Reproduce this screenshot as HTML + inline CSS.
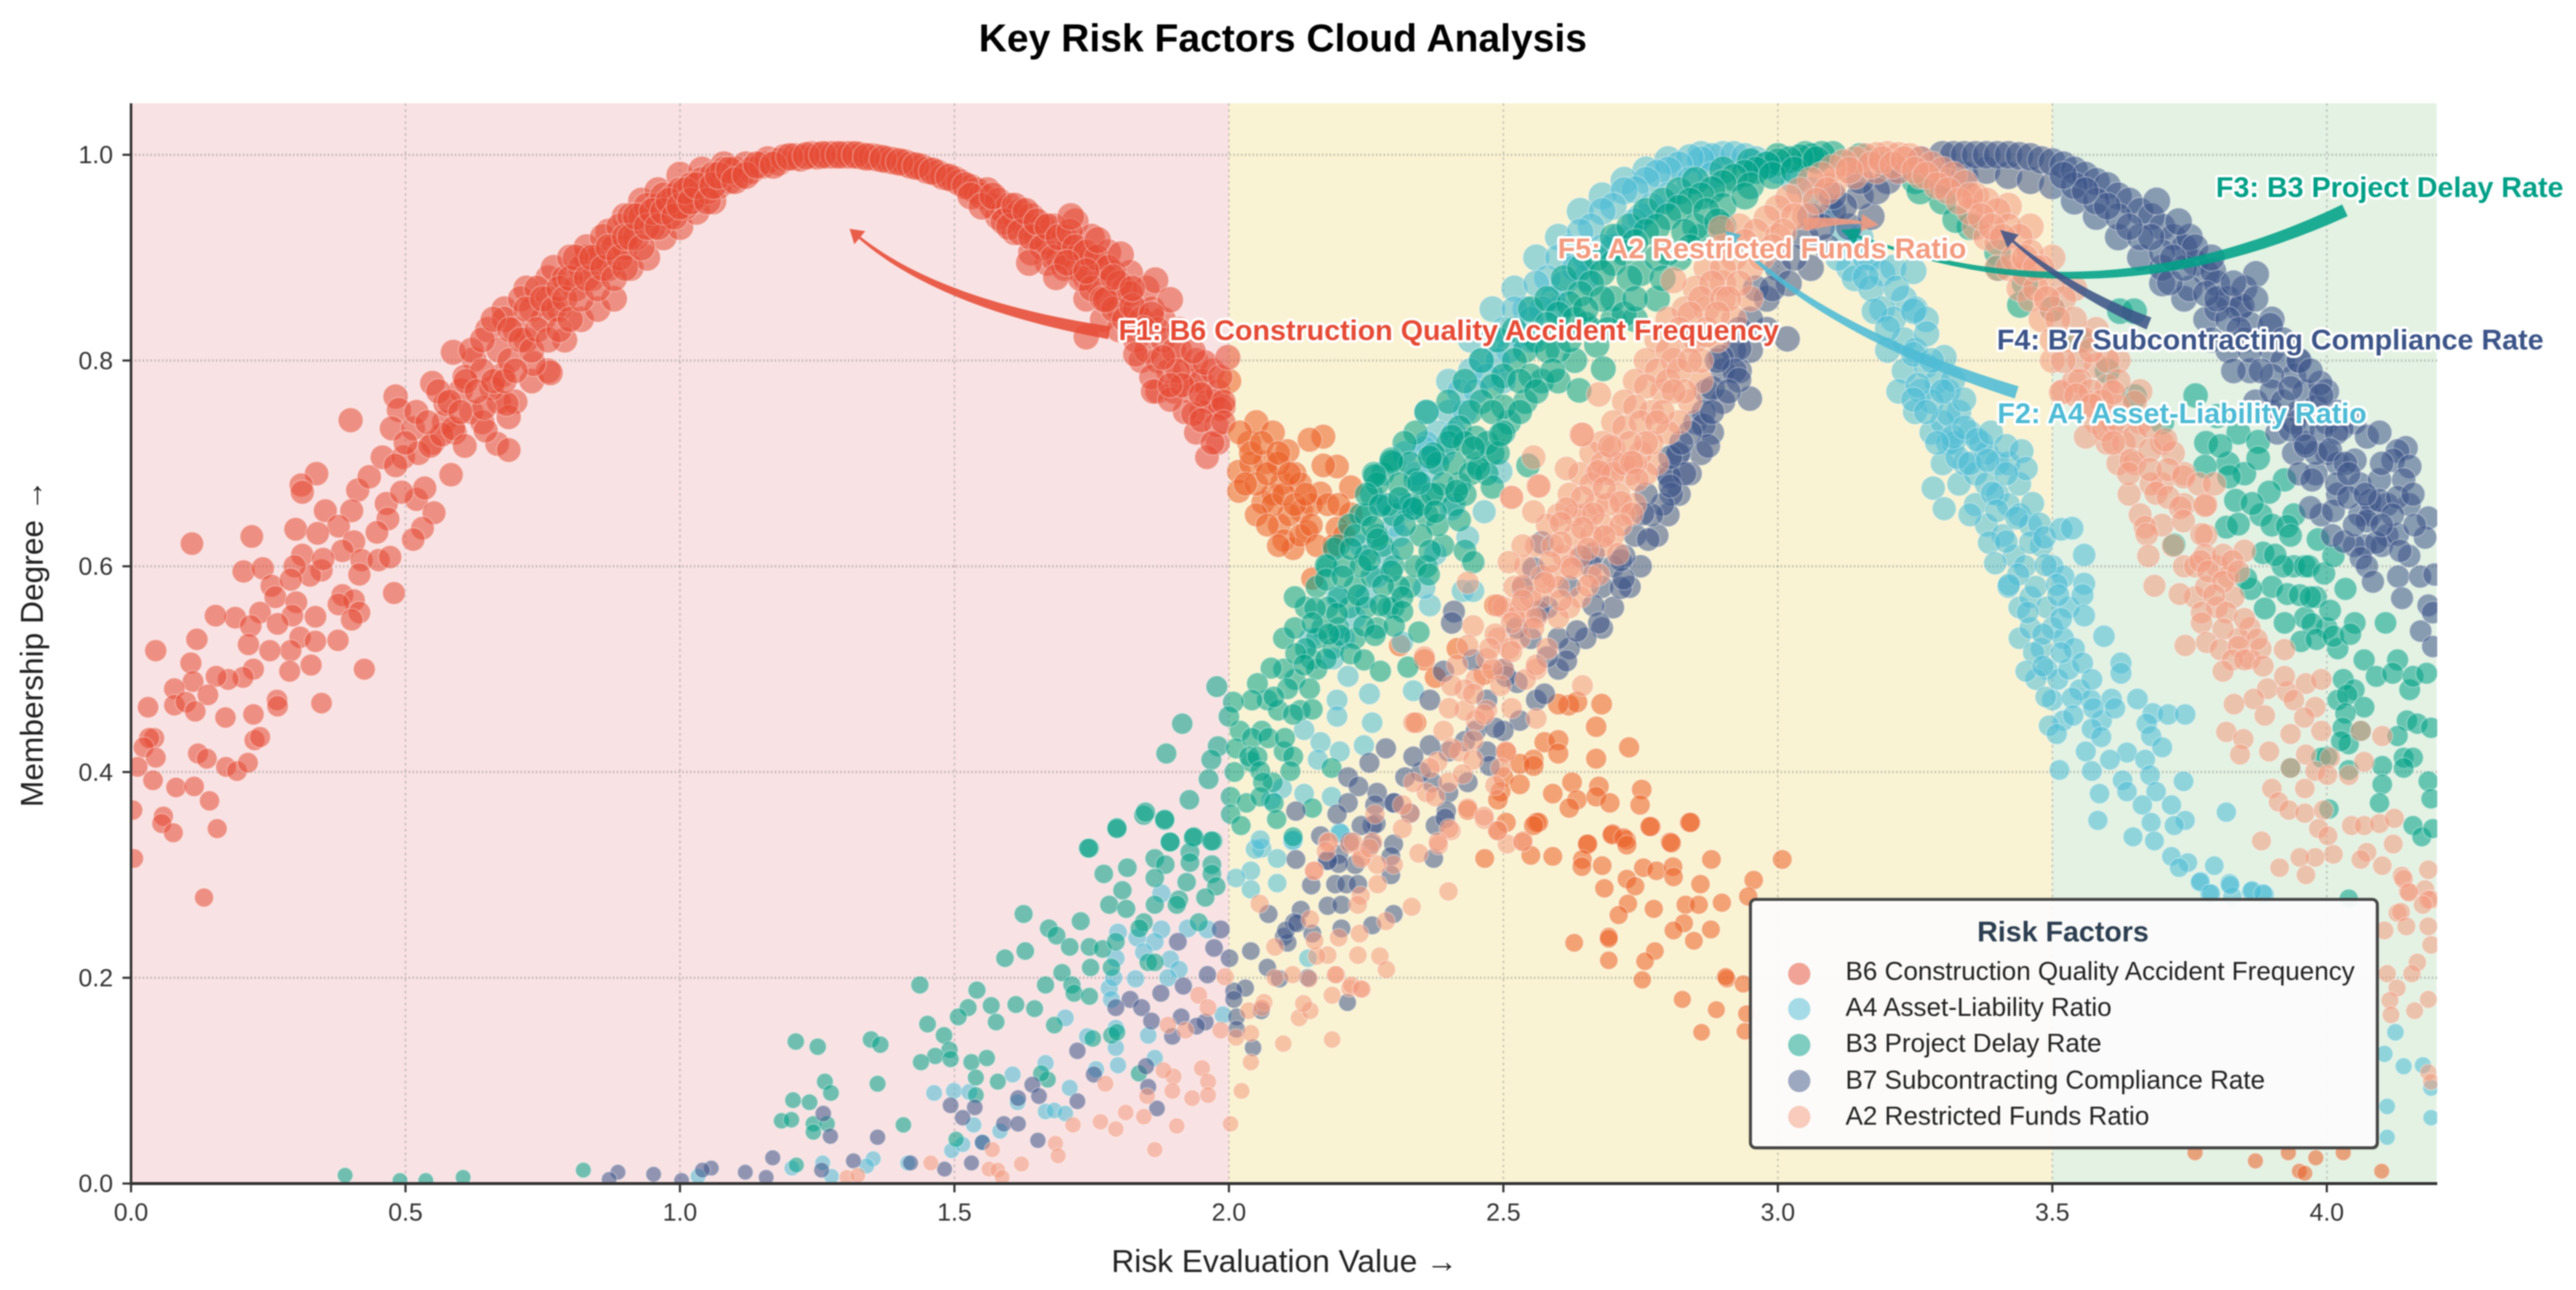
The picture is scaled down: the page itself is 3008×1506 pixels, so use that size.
<!DOCTYPE html>
<html lang="en">
<head>
<meta charset="utf-8">
<title>Key Risk Factors Cloud Analysis</title>
<style>
html,body{margin:0;padding:0;background:#fff;width:3008px;height:1506px;overflow:hidden}
svg{display:block;filter:blur(.9px)}
text{font-family:"Liberation Sans",sans-serif}
</style>
</head>
<body>
<svg id="chart" xmlns="http://www.w3.org/2000/svg" width="3008" height="1506" viewBox="0 0 3008 1506">
<defs><clipPath id="plot-clip"><rect x="153" y="120.6" width="2693" height="1261.1"/></clipPath></defs>
<text x="1498" y="60" text-anchor="middle" font-size="45.6" font-weight="bold" fill="#000">Key Risk Factors Cloud Analysis</text>
<text x="1500" y="1485" text-anchor="middle" font-size="37" fill="#222">Risk Evaluation Value →</text>
<text transform="translate(50,751) rotate(-90)" text-anchor="middle" font-size="37" fill="#222">Membership Degree →</text>
<g id="bands"></g>
<g id="grid"></g>
<g id="points" clip-path="url(#plot-clip)"></g>
<g id="axes"></g>
<g id="arrows"></g>
<g id="labels"></g>
<g>
<rect x="2046" y="1053" width="732" height="289" rx="6" fill="#000" opacity=".18"/>
<rect x="2044" y="1050" width="732" height="290" rx="6" fill="#fff" fill-opacity=".93" stroke="#444" stroke-width="3.5"/>
<text x="2409" y="1099" text-anchor="middle" font-size="33.4" font-weight="bold" fill="#2C3E50">Risk Factors</text>
<circle cx="2101" cy="1137" r="13" fill="#E64B35" fill-opacity=".5"/>
<circle cx="2101" cy="1178" r="13" fill="#4DBBD5" fill-opacity=".5"/>
<circle cx="2101" cy="1220" r="13" fill="#00A087" fill-opacity=".5"/>
<circle cx="2101" cy="1262" r="13" fill="#3C5488" fill-opacity=".5"/>
<circle cx="2101" cy="1304" r="13" fill="#F39B7F" fill-opacity=".5"/>
<g font-size="30.4" fill="#222">
<text x="2155" y="1144">B6 Construction Quality Accident Frequency</text>
<text x="2155" y="1186">A4 Asset-Liability Ratio</text>
<text x="2155" y="1228">B3 Project Delay Rate</text>
<text x="2155" y="1271">B7 Subcontracting Compliance Rate</text>
<text x="2155" y="1313">A2 Restricted Funds Ratio</text>
</g>
</g>
</svg>
<script>
const xTicks=[0,.5,1,1.5,2,2.5,3,3.5,4];
const yTicks=[0,.2,.4,.6,.8,1];
const xTickLabels=["0.0","0.5","1.0","1.5","2.0","2.5","3.0","3.5","4.0"];
const yTickLabels=["0.0","0.2","0.4","0.6","0.8","1.0"];
const bandEdges=[0,2,3.5,4.2];
const bandColors=["#F9E2E3","#FAF3D3","#E3F2E3"];
const seriesNames=["b6","a4","b3","b7","a2"];
const seriesColors=["#E64B35","#4DBBD5","#00A087","#3C5488","#F39B7F"];
const b6HighRangeColor="#EB5F26";

const b6Points=[[.55,.72],[.57,.74],[.59,.73],[.62,.75],[.64,.74],[.67,.76],[.7,.76],[.73,.78],[.76,.79],[.79,.82],[.82,.84],[.85,.85],[.88,.86],[.91,.89],[.94,.9],[.97,.92],[1,.93],[1.03,.945],[1.06,.955],[.76,.88],[.72,.87],[.68,.85],[.83,.9],[.87,.925],[.9,.94],[.93,.955],[.96,.965],[1,.98],[1.04,.985],[1.08,.99],[1.72,.935],[1.75,.92],[1.78,.905],[1.82,.885],[1.85,.87],[1.88,.84],[1.91,.81],[1.94,.78],[1.97,.76],[1.7,.905],[1.67,.895],[1.64,.905],[1.61,.925],[1.58,.94],[1.74,.86],[1.77,.84],[1.8,.83],[1.84,.8],[1.87,.77],[1.9,.77],[1.95,.75],[1.98,.72],
[.111,.622],[.22,.629],[.205,.595],[.24,.598],[.3,.636],[.338,.69],[.31,.679],[.312,.672],[.4,.742],[.482,.765],[.488,.752],[.475,.734],[.549,.778],[.413,.674],[.434,.687],[.458,.706],[.354,.654],[.402,.654],[.378,.639],[.34,.632],[.406,.624],[.385,.615],[.42,.606],[.451,.606],[.472,.609],[.416,.592],[.347,.596],[.326,.591],[.312,.611],[.298,.6],[.35,.607],[.256,.581],[.263,.57],[.291,.587],[.385,.572],[.406,.567],[.378,.563],[.416,.555],[.402,.548],[.479,.574],[.336,.551],[.301,.565],[.294,.552],[.235,.555],[.19,.55],[.154,.552],[.218,.542],[.267,.544],[.308,.531],[.336,.527],[.377,.528],[.291,.518],[.253,.518],[.214,.524],[.12,.529],[.045,.518],[.109,.506],[.328,.504],[.425,.5],[.289,.498],[.223,.5],[.204,.492],[.177,.49],[.155,.493],[.113,.488],[.079,.481],[.14,.475],[.079,.465],[.1,.468],[.117,.459],[.031,.463],[.266,.47],[.267,.464],[.347,.467],[.223,.456],[.172,.453],[.225,.431],[.235,.434],[.042,.433],[.033,.433],[.023,.424],[.045,.414],[.122,.418],[.138,.413],[.173,.405],[.193,.401],[.213,.409],[.012,.405],[.04,.392],[.082,.385],[.115,.386],[.143,.372],[.059,.357],[.056,.35],[.077,.341],[.157,.345],[.003,.363],[.005,.316],[.133,.278],
[.496,.706],[.524,.71],[.482,.698],[.545,.717],[.566,.728],[.587,.734],[.608,.717],[.583,.689],[.465,.661],[.468,.646],[.52,.665],[.535,.676],[.493,.672],[.552,.652],[.531,.637],[.514,.626],[.448,.633],[.514,.734],[.667,.719],[.688,.713],[.688,.745],[.684,.758],[.646,.732],[.573,.758],[.601,.771],[.657,.773],[.625,.801],[.608,.784],[.764,.788],[.733,.797],[.587,.808],[.677,.786],[.643,.754],
[.62,.81],[.64,.79],[.65,.83],[.67,.81],[.68,.84],[.69,.8],[.7,.83],[.71,.86],[.72,.82],[.73,.85],[.74,.87],[.75,.84],[.76,.86],[.77,.89],[.78,.85],[.79,.88],[.8,.9],[.81,.87],[.82,.89],[.83,.91],[.84,.88],[.85,.9],[.86,.92],[.87,.89],[.88,.91],[.89,.93],[.9,.91],[.91,.94],[.92,.92],[.93,.94],[.94,.95],[.95,.93],[.96,.95],[.97,.96],[.98,.94],[.99,.96],[1,.965],[1.01,.95],[1.02,.97],[1.03,.96],[1.04,.975],[1.05,.965],[1.06,.98],[1.07,.97],[1.08,.985],[1.09,.975],[1.1,.985],[1.11,.98],[1.12,.99],[1.13,.985],[1.15,.99],[1.16,.995],[1.18,.993],[1.19,.997],[1.21,.998],[1.22,.997],[1.24,1],[1.25,.999],[1.27,1],[1.28,1],[1.3,1],[1.31,1],[1.33,.999],[1.35,.998],[1.36,.997],[1.38,.995],[1.39,.994],[1.41,.992],[1.42,.99],[1.44,.988],[1.45,.985],[1.47,.982],[1.48,.979],[1.5,.976],[1.51,.973],[1.53,.968],[1.54,.965],[1.55,.96],[1.56,.965],[1.57,.95],[1.58,.955],[1.59,.945],[1.6,.95],[1.61,.94],[1.62,.945],[1.63,.93],[1.64,.94],[1.65,.92],[1.66,.93],[1.67,.915],[1.68,.93],[1.69,.9],[1.7,.92],[1.71,.91],[1.72,.89],[1.73,.905],[1.74,.88],[1.75,.9],[1.76,.875],[1.77,.89],[1.78,.86],[1.79,.885],[1.8,.85],[1.81,.87],[1.82,.83],
[.5,.72],[.52,.75],[.54,.74],[.56,.77],[.58,.76],[.6,.75],[.61,.78],[.63,.77],[.64,.82],[.66,.78],[.66,.84],[.68,.78],[.69,.83],[.7,.79],[.71,.82],[.72,.85],[.73,.81],[.74,.83],[.75,.86],[.76,.82],[.77,.85],[.78,.87],[.78,.83],[.79,.86],[.8,.84],[.8,.88],[.81,.9],[.82,.86],[.83,.88],[.84,.9],[.85,.87],[.86,.89],[.87,.91],[.88,.88],[.89,.9],[.9,.92],[.9,.89],[.91,.92],[.92,.94],[.93,.91],[.94,.93],[.95,.945],[.96,.93],[.97,.945],[.98,.955],[.99,.94],[1,.95],[1.01,.965],[1.02,.955],[1.03,.97],[1.05,.955],[1.06,.97],[1.07,.98],[1.09,.985],[1.1,.975],[1.12,.98],[1.14,.99],[1.17,.99],[1.2,.998],[1.23,.999],[1.26,1],[1.29,1],[1.32,1],[1.34,.998],[1.37,.996],[1.4,.993],[1.43,.989],[1.46,.984],[1.49,.978],[1.52,.97],[1.53,.96],[1.55,.95],[1.57,.96],[1.59,.935],[1.6,.93],[1.61,.95],[1.62,.925],[1.63,.945],[1.64,.92],[1.65,.935],[1.66,.91],[1.67,.93],[1.68,.9],[1.69,.92],[1.7,.89],[1.71,.925],[1.72,.91],[1.73,.88],[1.74,.905],[1.75,.87],[1.76,.9],[1.77,.86],[1.78,.89],[1.79,.85],[1.8,.875],[1.81,.84],[1.82,.865],[1.83,.82],[1.83,.85],[1.84,.84],[1.85,.81],[1.86,.85],[1.87,.8],[1.87,.83],[1.88,.82],[1.89,.79],[1.9,.81],[1.91,.83],[1.92,.79],[1.93,.77],[1.94,.8],[1.95,.78],[1.96,.76],[1.97,.79],[1.98,.77],[1.99,.755],[2,.78],[1.92,.75],[1.94,.73],
[1.636,.895],[1.685,.881],[1.712,.94],[1.761,.917],[1.803,.903],[1.866,.878],[1.893,.859],[1.74,.823],[1.83,.806],[1.859,.784],[1.862,.77],[1.893,.762],[1.935,.748],[1.984,.753],[1.956,.798],[1.907,.79],[1.984,.784],[1.977,.737],[1.935,.809],[1.998,.803],[1.775,.859],[1.824,.853],[1.859,.845],[1.705,.895],[1.74,.887],[1.789,.881],[1.824,.87],[1.845,.831],[1.88,.803],[1.915,.776],[1.949,.767],[1.893,.776],[1.96,.706],[1.97,.72],[1.95,.742],[1.99,.76],[1.99,.74],
[2.037,.72],[2.018,.692],[2.018,.673],[2.067,.701],[2.107,.712],[2.097,.681],[2.062,.662],[2.132,.654],[2.092,.64],[2.142,.634],[2.117,.617],[2.172,.726],[2.147,.723],[2.197,.697],[2.172,.698],[2.167,.671],[2.222,.677],[2.222,.651],[2.197,.637],[2.152,.588],[2.05,.74],[2.08,.73],[2.12,.69],[2.08,.67],[2.15,.66],[2.11,.65],[2.04,.7],[2.09,.7],[2.13,.68],[2.1,.625],[2.02,.73],[2.04,.71],[2.05,.68],[2.06,.72],[2.07,.69],[2.08,.66],[2.09,.71],[2.1,.67],[2.11,.69],[2.12,.66],[2.13,.63],[2.14,.67],[2.15,.64],[2.16,.62],[2.18,.66],[2.19,.62],[2.2,.66],[2.21,.63],[2.03,.68],[2.05,.65],[2.07,.64],[2.09,.62],[2.311,.523],[2.416,.52],[2.356,.509],[2.376,.492],[2.465,.495],[2.485,.562],[2.341,.448],[2.679,.466],[2.619,.465],[2.634,.468],[2.6,.466],[2.669,.444],[2.729,.424],[2.669,.413],[2.575,.429],[2.6,.431],[2.6,.418],[2.555,.412],[2.505,.419],[2.53,.408],[2.555,.406],[2.5,.395],[2.53,.388],[2.495,.381],[2.59,.379],[2.625,.39],[2.634,.373],[2.674,.386],[2.669,.376],[2.694,.37],[2.752,.383],[2.749,.368],[2.62,.365],[2.56,.351],[2.839,.351],[2.769,.347],[2.699,.34],[2.724,.334],[2.804,.332],[2.654,.33],[2.435,.363],[2.49,.373],[2.505,.351],
[2.466,.316],[2.489,.343],[2.536,.333],[2.55,.319],[2.59,.318],[2.564,.351],[2.555,.348],[2.653,.33],[2.644,.315],[2.643,.308],[2.68,.309],[2.684,.287],[2.698,.339],[2.719,.336],[2.725,.329],[2.767,.347],[2.806,.331],[2.841,.351],[2.879,.315],[2.755,.307],[2.725,.296],[2.74,.289],[2.779,.304],[2.809,.308],[2.81,.298],[2.859,.291],[2.956,.295],[2.946,.279],[3.008,.315],[2.727,.272],[2.71,.261],[2.774,.267],[2.832,.271],[2.856,.271],[2.898,.273],[2.829,.253],[2.81,.246],[2.878,.247],[2.847,.236],[2.629,.234],[2.692,.24],[2.692,.238],[2.692,.217],[2.776,.226],[2.758,.216],[2.753,.198],[2.907,.199],[2.905,.201],[2.937,.194],[2.826,.179],[2.888,.169],[2.861,.147],[2.943,.165],[2.94,.148],[3.76,.03],[3.87,.022],[3.93,.03],[3.95,.012],[3.96,.01],[3.98,.025],[4.03,.03],[4.1,.012]];

const a4Points=[[2.86,1],[2.8,.995],[2.76,.985],[2.72,.975],[2.68,.96],[2.64,.945],[2.6,.92],[2.56,.9],[2.52,.87],[2.48,.85],[2.44,.82],[2.4,.78],[2.36,.75],[2.32,.71],[2.28,.66],[2.24,.62],[3.13,.89],[3.11,.9],[3.14,.88],[3.2,.81],[3.23,.79],[3.22,.77],[3.25,.75],[3.28,.73],[3.31,.72],[3.3,.7],[3.33,.68],[3.36,.66],[3.38,.64],[3.35,.65],[3.42,.58],[3.44,.56],[3.46,.57],[3.49,.5],[3.51,.49],[3.44,.53],[3.47,.49],[3.5,.47],[3.52,.45],
[2.9,1],[2.88,.998],[2.86,.995],[2.84,.997],[2.82,.99],[2.8,.985],[2.78,.982],[2.76,.975],[2.74,.966],[2.72,.965],[2.7,.95],[2.68,.945],[2.66,.93],[2.64,.925],[2.62,.91],[2.6,.9],[2.58,.88],[2.56,.875],[2.54,.85],[2.52,.85],[2.5,.83],[2.48,.82],[2.46,.8],[2.44,.79],[2.42,.77],[2.4,.75],[2.38,.73],[2.36,.72],[2.34,.69],[2.32,.66],[2.3,.64],[2.75,.94],[2.7,.91],[2.65,.88],[2.6,.85],[2.55,.82],[2.5,.78],[2.92,1],[2.94,.998],[2.96,.995],[2.98,.99],[3,.985],[3.03,.975],[3.06,.965],[3.09,.95],[3.12,.925],[3.14,.91],[3.16,.9],
[2.88,.98],[2.84,.975],[2.8,.96],[2.77,.95],[2.74,.935],[2.71,.92],[2.68,.91],[2.65,.9],[2.63,.89],[2.61,.875],[2.59,.86],[2.57,.85],[2.55,.84],[2.53,.825],[2.51,.81],[2.49,.8],[2.47,.785],[2.45,.77],[2.43,.75],[2.41,.73],[2.39,.71],[2.37,.695],[2.35,.68],[2.33,.655],[2.31,.63],[2.29,.61],[2.27,.59],[2.25,.57],[2.23,.55],[2.21,.53],[2.19,.51],
[3.15,.92],[3.17,.9],[3.19,.885],[3.21,.89],[3.23,.86],[3.25,.85],[3.27,.84],[3.17,.87],[3.19,.85],[3.21,.84],[3.23,.82],[3.25,.81],[3.27,.795],[3.29,.78],[3.31,.77],[3.33,.75],[3.35,.73],[3.37,.72],[3.26,.77],[3.28,.76],[3.3,.74],[3.32,.72],[3.34,.7],[3.36,.69],[3.38,.68],[3.4,.67],[3.42,.66],[3.44,.65],[3.4,.7],[3.42,.7],[3.38,.71],[3.44,.68],[3.46,.64],[3.48,.62],[3.5,.6],[3.52,.59],[3.41,.63],[3.43,.61],[3.45,.6],[3.47,.58],[3.49,.56],[3.5,.54],[3.52,.53],[3.53,.56],[3.54,.52],[3.46,.54],[3.48,.52],[3.53,.5],[3.55,.48],[3.57,.47],[3.59,.45],
[3.16,.881],[3.216,.87],[3.247,.887],[3.176,.848],[3.247,.848],[3.2,.831],[3.271,.826],[3.247,.806],[3.303,.803],[3.255,.776],[3.319,.781],[3.247,.762],[3.311,.748],[3.339,.762],[3.283,.676],[3.303,.656],[3.327,.706],[3.319,.726],[3.28,.8],[3.3,.77],[3.27,.75],[3.34,.735],[3.29,.72],[3.35,.7],
[3.363,.723],[3.388,.73],[3.416,.717],[3.382,.703],[3.444,.712],[3.452,.695],[3.416,.69],[3.391,.671],[3.464,.661],[3.399,.654],[3.435,.647],[3.477,.641],[3.385,.623],[3.416,.624],[3.46,.623],[3.486,.628],[3.516,.636],[3.536,.637],[3.396,.603],[3.558,.611],[3.488,.601],[3.438,.592],[3.421,.582],[3.508,.582],[3.558,.583],[3.555,.572],[3.511,.572],[3.455,.555],[3.516,.549],[3.558,.552],[3.483,.534],[3.594,.532],[3.466,.516],[3.516,.516],[3.625,.506],[3.625,.496],[3.452,.498],[3.483,.503],[3.555,.506],[3.572,.49],[3.488,.473],[3.536,.472],[3.608,.471],[3.614,.462],[3.655,.471],[3.575,.462],[3.538,.455],[3.494,.445],[3.508,.437],[3.683,.457],[3.711,.456],[3.742,.456],[3.672,.447],[3.68,.435],[3.572,.442],[3.589,.434],[3.561,.42],[3.7,.424],[3.636,.419],[3.605,.412],[3.669,.412],[3.572,.401],[3.678,.397],[3.513,.402],[3.628,.392],[3.739,.391],[3.586,.379],[3.636,.381],[3.689,.381],[3.664,.368],[3.717,.368],[3.583,.353],[3.817,.361],[3.68,.351],[3.742,.353],[3.722,.348],[3.647,.337],[3.686,.333],[3.717,.318],[3.747,.312],[3.731,.307],[3.795,.309],[3.77,.294],[3.823,.292],[3.786,.282],[3.828,.279],[3.862,.284],[3.887,.281],[3.769,.293],[3.824,.29],[3.789,.282],[3.864,.285],[3.884,.282],[4.125,.147],[4.105,.126],[4.14,.114],[4.175,.115],[4.19,.093],[4.11,.075],[4.19,.064],[4.11,.045],
[1.463,.088],[1.499,.09],[1.527,.089],[1.606,.106],[1.666,.117],[1.71,.093],[1.615,.079],[1.666,.07],[1.682,.071],[1.702,.068],[1.535,.057],[1.583,.051],[1.551,.04],[1.495,.032],[1.515,.038],[1.415,.02],[1.352,.024],[1.34,.017],[1.26,.02],[1.204,.015],[1.276,.007],[1.033,.007],[1.758,.111],[1.798,.115],[1.865,.122],[1.794,.132],[1.742,.143],[1.702,.161],[1.794,.151],[1.853,.144],[1.782,.19],[1.786,.179],[1.79,.2],[1.83,.199],[1.794,.219],[1.798,.244],[1.833,.239],[1.877,.247],[1.865,.235],[1.845,.225],[1.877,.282],[1.893,.218],[1.909,.208],[1.889,.2],[1.925,.248],[1.961,.247],[2.04,.304],[2.013,.297],[2.04,.286],[2.088,.292],[1.989,.164],[2.144,.219],[2.204,.34],[2.06,.326],[2.088,.316],[2.116,.333],[2.048,.325],
[2.217,.493],[2.197,.47],[2.256,.476],[2.197,.454],[2.261,.448],[2.137,.441],[2.167,.429],[2.246,.426],[2.162,.412],[2.202,.42],[2.097,.384],[2.137,.379],[2.077,.373],[2.057,.334],[2.187,.376],[2.202,.341],[2.117,.334],[2.336,.479],[2.426,.576],[2.445,.576],[2.366,.562],[2.197,.57],[2.147,.529],[2.316,.526],[2.356,.579],[2.435,.628],[2.406,.656],[2.495,.692],[2.356,.715],[2.465,.653],[2.376,.612]];

const b3Points=[[2.4,.76],[2.43,.78],[2.46,.8],[2.49,.82],[2.52,.83],[2.55,.85],[2.58,.86],[2.61,.88],[2.64,.89],[2.67,.9],[2.7,.92],[2.73,.93],[2.76,.945],[2.79,.955],[2.82,.965],[2.85,.975],[2.9,.985],[2.95,.993],[3,.998],[3.05,1],[2.42,.68],[2.45,.7],[2.48,.71],[2.51,.74],[2.54,.76],[2.57,.78],[2.6,.78],[2.63,.8],[2.66,.83],[2.7,.84],[2.74,.84],[2.78,.86],[2.82,.9],[2.86,.92],[2.9,.93],[2.36,.75],[2.34,.73],[2.32,.72],[2.3,.7],[2.28,.69],[2.26,.67],[2.24,.65],[2.22,.64],[2.2,.62],[2.18,.6],[2.16,.58],[2.14,.56],[2.12,.57],[2.1,.53],[2.38,.67],[2.36,.65],[2.33,.66],[2.3,.65],[2.27,.63],[2.25,.61],[2.23,.58],[2.2,.54],[2.17,.54],[2.15,.51],[2.12,.49],[2.07,.47],[2.3,.56],[2.33,.58],[2.36,.6],[2.39,.62],
[3.1,1],[3.08,1],[3.06,.998],[3.04,.997],[3.02,.995],[3,.993],[2.98,.99],[2.96,.985],[2.94,.982],[2.92,.978],[2.9,.972],[2.88,.966],[2.86,.96],[2.84,.955],[2.82,.948],[2.8,.94],[2.78,.93],[2.76,.925],[2.74,.915],[2.72,.905],[2.7,.895],[2.68,.885],[2.66,.875],[2.64,.865],[2.62,.855],[2.6,.845],[2.58,.835],[2.56,.82],[2.54,.81],[2.52,.8],[2.5,.785],[2.48,.775],[2.46,.76],[2.44,.75],[2.42,.735],[2.4,.72],[2.85,.93],[2.8,.905],[2.75,.885],[2.7,.86],[2.65,.835],[2.6,.81],[2.55,.785],[2.5,.755],[2.45,.725],[2.72,.845],[2.67,.815],[2.372,.709],[2.34,.684],[2.682,.792],[2.638,.771],[2.296,.704],[2.264,.69],
[2.95,.97],[2.9,.95],[2.87,.945],[2.83,.925],[2.78,.9],[2.73,.88],[2.68,.86],[2.63,.84],[2.58,.81],[2.53,.78],[2.48,.75],[2.43,.72],[2.38,.7],[2.35,.66],[2.33,.7],[2.31,.68],[2.29,.66],[2.27,.68],[2.25,.65],[2.23,.63],[2.21,.6],[2.41,.7],[2.39,.68],[2.37,.67],[2.44,.69],[2.47,.72],[2.5,.73],[2.53,.75],[2.56,.77],[2.59,.79],[2.62,.82],[2.65,.85],[2.69,.83],[2.74,.86],[2.79,.88],[2.84,.91],[2.89,.935],[2.94,.96],[2.99,.98],[3.03,.985],[3.07,.995],[2.41,.66],[2.38,.64],[2.35,.63],[2.32,.64],[2.3,.6],[2.28,.62],[2.26,.59],[2.24,.6],[2.22,.56],[2.2,.57],[2.18,.56],[2.16,.53],[2.14,.52],[2.12,.54],[2.1,.5],[2.34,.6],[2.31,.58],[2.29,.56],[2.27,.54],[2.25,.56],[2.23,.53],[2.19,.52],[2.16,.5],[2.13,.46],[2.09,.46],[2.06,.44],[2.04,.41],[2.01,.4],[2.02,.44],[2.08,.39],[2.1,.42],[2.47,.69],[2.49,.71],[2.43,.67],
[3.15,.998],[3.2,.99],[3.25,.975],[3.3,.955],[3.35,.93],[3.4,.905],[3.45,.875],[3.5,.85],[3.55,.82],[3.6,.79],[3.65,.765],[3.7,.74],[3.259,.965],[3.324,.937],[3.402,.89],[3.441,.854],[3.623,.848],[3.649,.848],[3.78,.72],[3.82,.7],[3.85,.69],[3.88,.65],[3.9,.64],[3.94,.6],[3.96,.6],[3.92,.6],[3.98,.57],[3.96,.55],[4,.54],[4.02,.52],[4.03,.49],[4.05,.48],[4.02,.47],[3.94,.65],[3.9,.58],
[3.761,.766],[3.839,.73],[3.875,.721],[3.875,.705],[3.923,.684],[3.895,.672],[3.834,.664],[3.864,.661],[3.817,.638],[3.839,.641],[3.928,.639],[3.934,.63],[3.984,.626],[3.884,.613],[3.906,.611],[3.967,.6],[3.995,.593],[4.012,.61],[4.034,.578],[3.928,.573],[3.951,.572],[3.97,.57],[3.862,.578],[4.006,.557],[3.887,.559],[3.973,.544],[4.051,.545],[4.107,.545],[3.953,.527],[3.981,.529],[4.012,.532],[4.043,.534],[3.923,.545],[4.068,.509],[4.129,.509],[4.09,.493],[4.12,.496],[4.151,.48],[4.157,.493],[4.182,.496],[4.037,.475],[4.068,.463],[4.034,.457],[4.146,.45],[4.165,.447],[4.19,.443],[4.129,.435],[4.14,.414],[4.157,.414],[4.101,.406],[4.14,.404],[4.185,.391],[4.19,.374],[4.101,.388],[4.096,.37],[4.157,.348],[4.173,.337],[4.193,.345],[3.934,.404],[4.04,.402],[4.029,.443],[4.062,.44],[4.04,.427],[4.001,.415],[4.004,.364],[3.99,.414],[4.026,.43],[3.8,.746],[3.806,.717],[3.778,.697],[3.822,.687],[3.722,.621],[3.853,.588],[4.04,.277],
[1.796,.346],[1.746,.326],[1.845,.358],[1.883,.353],[1.772,.301],[1.815,.307],[1.806,.285],[1.782,.271],[1.813,.267],[1.893,.332],[1.935,.336],[1.971,.333],[1.929,.322],[1.929,.312],[1.865,.316],[1.884,.31],[1.865,.297],[1.969,.31],[1.969,.301],[1.977,.289],[1.923,.293],[1.909,.276],[1.905,.271],[1.865,.271],[1.957,.278],[1.945,.254],[1.845,.254],[1.837,.248],[1.73,.255],[1.626,.262],[1.672,.248],[1.686,.241],[1.71,.23],[1.746,.23],[1.77,.228],[1.794,.235],[1.629,.226],[1.592,.219],[1.696,.205],[1.748,.21],[1.786,.21],[1.853,.215],[1.865,.215],[1.666,.193],[1.714,.193],[1.718,.185],[1.746,.182],[1.437,.193],[1.541,.188],[1.525,.171],[1.507,.162],[1.567,.173],[1.576,.157],[1.612,.174],[1.646,.17],[1.451,.155],[1.682,.154],[1.481,.144],[1.491,.13],[1.465,.124],[1.439,.118],[1.493,.121],[1.531,.118],[1.559,.122],[1.539,.103],[1.539,.086],[1.579,.099],[1.67,.101],[1.658,.107],[1.752,.141],[1.786,.144],[1.796,.147],[1.36,.097],[1.264,.099],[1.275,.088],[1.206,.081],[1.236,.079],[1.185,.061],[1.203,.062],[1.243,.058],[1.268,.058],[1.243,.05],[1.211,.138],[1.251,.133],[1.348,.14],[1.365,.135],[1.407,.057],[1.503,.043],[1.212,.018],[1.836,.107],[.39,.008],[.49,.003],[.537,.003],[.605,.006],[.824,.013],
[2.296,.702],[2.266,.688],[2.366,.706],[2.346,.681],[2.48,.677],[2.415,.673],[2.455,.695],[2.445,.715],[2.406,.726],[2.495,.728],[2.545,.698],[2.251,.67],[2.276,.659],[2.311,.666],[2.336,.656],[2.376,.653],[2.42,.645],[2.262,.638],[2.271,.626],[2.192,.617],[2.222,.617],[2.256,.606],[2.316,.617],[2.366,.615],[2.43,.615],[2.445,.604],[2.364,.592],[2.177,.601],[2.177,.587],[2.207,.59],[2.296,.595],[2.236,.572],[2.281,.581],[2.316,.57],[2.276,.562],[2.316,.556],[2.157,.559],[2.197,.554],[2.152,.545],[2.246,.542],[2.301,.542],[2.346,.536],[2.202,.533],[2.266,.533],[2.182,.534],[2.122,.515],[2.137,.504],[2.177,.51],[2.222,.515],[2.246,.509],[2.276,.498],[2.077,.501],[2.326,.502],[2.052,.486],[2.042,.47],[2.107,.481],[2.147,.481],[2.082,.473],[2.008,.468],[2.152,.461],[2,.454],[2.117,.456],[1.978,.483],[1.915,.447],[1.886,.418],[1.98,.425],[2.013,.423],[2.042,.433],[2.072,.433],[2.102,.433],[1.968,.412],[2.037,.415],[2.117,.415],[2.052,.415],[1.963,.393],[2.057,.401],[2.112,.401],[2.187,.404],[1.928,.373],[2.062,.39],[2.003,.376],[2.032,.37],[2.057,.376],[2.082,.37],[1.848,.361],[1.883,.354],[1.796,.345],[1.893,.332],[1.936,.337],[1.968,.333],[2.003,.359],[2.087,.354],[2.152,.365],[2.022,.348],[2.117,.337],[1.744,.326]];

const b7Points=[[3.3,.975],[3.34,.98],[3.38,.985],[3.42,.98],[3.46,.975],[3.5,.97],[3.54,.955],[3.58,.94],[3.62,.92],[3.66,.9],[3.7,.875],[3.74,.86],[3.78,.84],[3.82,.81],[3.86,.79],[3.9,.75],[3.94,.71],[3.98,.69],[4.02,.67],[4.06,.65],[4.01,.63],[3.99,.65],[3.95,.69],[3.91,.73],[3.87,.76],[3.83,.79],[3.79,.82],[4.07,.62],[4.11,.63],[4.15,.61],[4.13,.59],[4.17,.59],[4.15,.66],[4.1,.62],[4.05,.62],[2.98,.83],[2.95,.81],[2.93,.79],[2.9,.76],[2.88,.73],[2.86,.71],[2.84,.69],[2.82,.67],[2.8,.65],[2.78,.63],[2.75,.6],[2.73,.58],[2.7,.56],[2.68,.54],[2.65,.53],[2.62,.52],[2.6,.5],[2.56,.47],[2.53,.45],[2.5,.44],[2.47,.42],[2.43,.43],[2.4,.38],[2.37,.39],[2.33,.36],[2.3,.33],[2.26,.33],[2.23,.31],[2.18,.27],[3.09,.91],[3.13,.93],[3.17,.94],[3.06,.89],
[3.22,.985],[3.26,.995],[3.3,1],[3.32,1],[3.34,1],[3.36,1],[3.38,1],[3.4,1],[3.42,1],[3.44,.999],[3.46,.998],[3.48,.995],[3.5,.993],[3.52,.99],[3.54,.985],[3.56,.98],[3.58,.974],[3.6,.97],[3.62,.96],[3.64,.955],[3.66,.945],[3.68,.94],[3.7,.93],[3.72,.92],[3.74,.91],[3.76,.895],[3.78,.885],[3.8,.875],[3.82,.86],[3.84,.85],[3.86,.835],[3.88,.82],[3.9,.81],[3.92,.8],[3.94,.785],[3.96,.77],[3.98,.755],[4,.74],[3.7,.89],[3.75,.87],[3.8,.85],[3.85,.82],[3.9,.785],[3.95,.75],[3.75,.92],[3.85,.87],[3.9,.84],[3.95,.8],[4,.77],[4.05,.74],[4,.71],[3.793,.887],[3.845,.853],[3.714,.876],[3.871,.884],[3.897,.834],[3.949,.8],[3.988,.778],[4.027,.734],[4.144,.715],
[3.54,.97],[3.58,.955],[3.62,.94],[3.66,.92],[3.7,.905],[3.74,.89],[3.78,.865],[3.82,.84],[3.86,.81],[3.9,.77],[3.94,.74],[3.98,.71],[4.02,.7],[4.06,.68],[3.96,.72],[3.92,.76],[3.88,.79],[3.84,.83],[3.8,.86],[3.76,.91],[3.72,.9],[3.68,.92],[3.64,.93],[3.6,.95],[3.56,.965],[3.52,.98],[4.08,.65],[4.11,.66],[4.02,.75],[3.97,.79],[3.92,.82],[3.87,.86],[3.83,.875],[3.79,.9],[3.73,.935],[3.69,.955],
[3.2,.975],[3.15,.96],[3.1,.945],[3.05,.92],[3,.89],[2.98,.86],[2.95,.84],[2.92,.81],[2.9,.79],[2.87,.77],[2.85,.74],[2.82,.71],[2.8,.69],[3.18,.965],[3.12,.95],[3.08,.93],[3.03,.9],[2.929,.812],[2.897,.803],[2.921,.79],[2.949,.763],[2.929,.781],[2.881,.773],[2.865,.75],[2.865,.737],[2.873,.717],[2.818,.709],[2.802,.687],[2.806,.67],[3.017,.821],
[2.96,.87],[2.93,.83],[2.89,.8],[2.91,.77],[2.88,.75],[2.84,.73],[2.83,.69],[2.79,.66],[2.77,.65],[2.76,.67],[2.74,.63],[2.72,.61],[2.7,.6],[2.68,.58],[2.66,.6],[2.62,.58],[2.6,.53],[2.58,.56],[2.55,.53],[2.5,.5],[2.47,.47],[2.45,.44],[2.4,.42],[2.35,.4],[2.3,.37],[2.27,.38],[2.2,.32],[2.15,.29],[2.1,.24],[2.07,.21],[2.03,.19],[3.1,.96],[3.06,.94],[3.15,.975],[3.02,.875],[2.99,.87],
[3.934,.773],[3.99,.766],[3.956,.733],[3.934,.733],[3.99,.733],[4.018,.73],[3.962,.717],[4.006,.713],[4.051,.703],[4.034,.7],[4.073,.726],[4.096,.73],[4.129,.712],[4.121,.703],[4.151,.697],[3.973,.684],[4.018,.68],[4.096,.684],[4.14,.684],[3.97,.657],[4.012,.654],[4.04,.667],[4.079,.664],[4.096,.664],[4.129,.667],[4.157,.67],[4.185,.647],[4.031,.624],[4.073,.644],[4.129,.631],[4.179,.628],[4.09,.623],[4.134,.615],[4.062,.608],[4.073,.6],[4.084,.585],[4.137,.569],[4.185,.562],[4.171,.537],[4.193,.522],[4.193,.555],[4.196,.592],[4.04,.69],[4.1,.7],[4.07,.67],[4.12,.65],[4.16,.64],[4.05,.64],[4.1,.64],
[2.804,.706],[2.804,.678],[2.824,.72],[2.754,.651],[2.764,.626],[2.714,.579],[2.719,.588],[2.664,.562],[2.674,.545],[2.634,.537],[2.615,.508],[2.58,.512],[2.57,.623],[2.565,.556],[2.525,.54],[2.575,.476],[2.525,.487],[2.391,.498],[2.366,.47],[2.41,.556],[2.406,.545],[2.445,.509],[2.505,.493],[2.485,.443],[2.366,.426],[2.286,.423],[2.256,.409],[2.336,.415],[2.475,.406],[2.435,.39],[2.217,.395],[2.236,.386],[2.217,.37],[2.197,.359],[2.122,.362],[2.321,.395],[2.266,.368],[2.301,.37],[2.396,.362],[2.376,.348],[2.261,.348],[2.167,.338],[2.555,.598],[2.535,.579],[2.664,.612],[2.714,.606],[2.644,.609],
[2.394,.355],[2.268,.35],[2.241,.348],[2.22,.332],[2.122,.315],[2.179,.314],[2.2,.311],[2.295,.318],[2.373,.316],[2.194,.291],[2.214,.291],[2.235,.291],[2.295,.3],[2.205,.271],[2.131,.266],[2.119,.254],[2.3,.262],[2.261,.251],[2.205,.248],[2.152,.243],[2.107,.234],[2.144,.2],[2.216,.176],
[2.18,.314],[2.072,.262],[2.104,.246],[2.124,.253],[1.985,.247],[1.907,.235],[1.973,.229],[2.001,.219],[2.04,.226],[1.961,.203],[1.917,.192],[1.876,.185],[1.82,.179],[1.794,.171],[1.841,.171],[1.859,.158],[1.913,.162],[1.957,.157],[1.941,.153],[2.009,.187],[2.009,.179],[2.014,.162],[2.014,.15],[2.044,.132],[2.092,.199],[2.059,.168],[1.897,.143],[1.724,.129],[1.849,.114],[1.754,.106],[1.853,.094],[1.869,.073],[1.642,.096],[1.654,.085],[1.616,.083],[1.724,.08],[1.537,.074],[1.493,.076],[1.515,.064],[1.59,.058],[1.616,.058],[1.652,.042],[1.551,.04],[1.36,.045],[1.169,.025],[1.42,.02],[1.316,.022],[1.258,.013],[1.482,.014],[1.531,.02],[1.057,.015],[1.041,.013],[1.119,.011],[1.157,.006],[1.261,.068],[1.274,.046],[.887,.011],[.871,.004],[.952,.009],[1.003,.003]];

const a2Points=[[2.93,.93],[2.9,.91],[2.87,.89],[2.85,.87],[2.83,.85],[2.8,.84],[2.78,.82],[2.76,.8],[2.74,.78],[2.72,.76],[2.7,.74],[2.68,.72],[2.66,.71],[2.64,.69],[2.62,.67],[2.6,.65],[2.58,.64],[2.56,.62],[2.54,.6],[2.52,.58],[2.5,.56],[2.49,.53],[2.47,.51],[2.45,.49],[2.43,.48],[2.95,.86],[2.92,.84],[2.89,.82],[2.86,.78],[2.84,.76],[2.82,.74],[2.8,.73],[2.78,.7],[2.76,.69],[2.74,.66],[2.72,.65],[2.7,.63],[2.68,.62],[2.66,.59],[2.64,.57],[2.62,.56],[2.6,.55],[2.58,.52],[2.56,.5],[2.54,.49],[2.9,.875],[2.87,.85],[2.84,.82],[2.81,.8],[2.79,.77],[2.77,.75],[2.75,.71],[2.73,.69],[2.71,.7],[2.69,.69],[2.67,.69],[2.65,.65],[2.63,.63],[2.61,.61],[2.59,.59],[2.57,.57],[2.55,.55],[2.53,.56],[2.51,.52],[3.36,.93],[3.38,.92],[3.4,.89],[3.42,.89],[3.44,.87],[3.46,.86],[3.48,.84],[3.5,.8],[3.52,.77],[3.54,.78],[3.56,.76],[3.58,.74],[3.6,.72],[3.62,.7],[3.64,.67],[3.66,.65],[3.7,.64],[3.72,.62],[3.74,.6],[3.76,.57],[3.78,.58],[3.8,.6],[3.83,.57],[3.86,.51],[3.42,.95],[3.46,.93],[3.5,.9],[3.54,.87],[3.58,.83],[3.62,.8],[3.66,.77],[3.7,.72],[3.74,.69],[3.78,.66],[3.1,.97],[3.14,.98],[3.18,.985],[3.22,.985],[3.26,.98],[3.3,.97],
[3.2,1],[3.18,.999],[3.16,.998],[3.14,.995],[3.12,.992],[3.1,.987],[3.08,.98],[3.06,.975],[3.04,.965],[3.02,.958],[3,.948],[2.98,.938],[2.96,.925],[2.94,.915],[2.92,.9],[2.9,.89],[2.88,.875],[2.86,.86],[2.84,.845],[2.82,.83],[2.8,.81],[2.78,.79],[2.76,.775],[2.74,.755],[2.72,.735],[2.7,.715],[2.68,.7],[2.66,.68],[3.22,.999],[3.24,.998],[3.26,.995],[3.28,.99],[3.3,.985],[3.32,.98],[3.34,.972],[3.36,.96],[3.38,.955],[3.4,.945],[3.42,.93],[3.44,.92],[3.46,.905],[3.48,.89],[3.5,.875],[3.52,.86],[3.54,.84],[3.56,.82],[3.58,.795],[3.6,.775],[3.62,.755],[3.05,.94],[3,.92],[2.95,.89],[2.9,.86],[2.85,.82],[2.8,.78],[2.75,.74],[2.7,.69],[3.35,.945],[3.4,.915],[3.45,.885],[3.5,.85],[3.55,.8],[3.47,.87],[2.77,.72],[2.72,.7],[2.82,.79],[2.87,.83],[2.67,.66],[2.81,.878],[2.897,.928],[2.642,.728],[2.674,.767],[2.555,.706],[2.563,.678],[2.515,.667],
[3.17,.99],[3.13,.985],[3.09,.965],[3.07,.955],[3.03,.94],[3.01,.925],[2.99,.91],[2.97,.9],[2.93,.875],[2.91,.86],[2.89,.845],[2.87,.825],[2.86,.8],[2.84,.8],[2.83,.77],[2.81,.77],[2.79,.75],[2.78,.74],[2.76,.72],[2.74,.7],[2.73,.72],[2.71,.67],[2.69,.66],[2.68,.64],[2.66,.63],[2.64,.61],[2.63,.65],[2.62,.6],[2.6,.58],[2.59,.62],[2.57,.59],[2.56,.55],[2.55,.57],[2.53,.53],[2.52,.55],[2.5,.5],[2.48,.5],[2.47,.46],[2.45,.45],[2.43,.46],[2.42,.42],[2.4,.39],[2.38,.41],[2.36,.38],[2.33,.36],[2.3,.31],[2.27,.31],[2.24,.28],
[3.19,.995],[3.21,.99],[3.23,.995],[3.25,.985],[3.27,.98],[3.29,.97],[3.31,.965],[3.33,.955],[3.35,.96],[3.37,.94],[3.39,.93],[3.41,.92],[3.43,.9],[3.45,.9],[3.47,.89],[3.49,.86],[3.51,.84],[3.53,.82],[3.55,.78],[3.57,.77],[3.59,.76],[3.6,.8],[3.61,.74],[3.63,.72],[3.65,.7],[3.52,.8],[3.5,.82],[3.57,.81],[3.62,.78],[3.66,.74],[3.7,.68],[3.74,.66],[3.72,.71],[3.68,.68],[3.78,.63],[3.82,.59],[3.86,.54],[3.88,.52],[3.76,.6],[3.8,.56],[3.84,.53],
[3.516,.769],[3.544,.766],[3.572,.756],[3.611,.769],[3.65,.759],[3.561,.726],[3.594,.733],[3.622,.74],[3.65,.726],[3.678,.736],[3.611,.72],[3.644,.703],[3.678,.713],[3.706,.723],[3.639,.69],[3.678,.694],[3.711,.694],[3.689,.671],[3.711,.667],[3.739,.687],[3.767,.68],[3.795,.68],[3.733,.657],[3.778,.659],[3.739,.644],[3.669,.638],[3.672,.631],[3.675,.61],[3.772,.631],[3.778,.611],[3.77,.605],[3.811,.611],[3.85,.615],[3.828,.605],[3.784,.595],[3.811,.585],[3.839,.595],[3.795,.572],[3.686,.581],[3.732,.573],[3.772,.555],[3.772,.545],[3.817,.555],[3.85,.549],[3.811,.539],[3.873,.529],[3.742,.523],[3.781,.526],[3.806,.519],[3.839,.522],[3.923,.519],[3.828,.509],[3.811,.498],[3.85,.509],[3.884,.503],[3.892,.481],[3.928,.478],[3.923,.493],[3.962,.486],[3.99,.49],[3.867,.471],[3.831,.466],[3.887,.455],[3.94,.47],[3.979,.463],[3.817,.439],[3.848,.432],[3.842,.417],[3.895,.42],[3.934,.437],[3.959,.453],[3.99,.44],[3.962,.417],[4.006,.414],[4.062,.44],[4.101,.435],[4.068,.41],[3.934,.404],[3.979,.401],[4.001,.397],[4.04,.397],[3.96,.384],[3.9,.384],[3.912,.371],[3.931,.363],[3.96,.36],[3.994,.363],[3.985,.345],[4.002,.338],[4.045,.348],[4.068,.348],[4.096,.35],[4.123,.355],[4.121,.33],[4.073,.322],[4.012,.32],[3.979,.317],[3.951,.317],[4.062,.315],[4.101,.309],[3.881,.333],[3.914,.307],[3.962,.3],[4.137,.299],[4.185,.305],[4.148,.284],[4.179,.286],[4.19,.276],[4.129,.263],[4.14,.296],[4.15,.283],[4.185,.276],[4.175,.271],[4.135,.264],[4.145,.25],[4.185,.25],[4.105,.246],[4.19,.232],[4.165,.215],[4.155,.204],[4.11,.204],[4.128,.19],[4.115,.178],[4.185,.179],[4.16,.168],[4.117,.164],[4.185,.108],[4.19,.099],
[1.993,.201],[1.945,.183],[1.962,.171],[1.985,.149],[2.013,.142],[2.04,.146],[2.04,.118],[1.951,.112],[1.899,.104],[1.962,.099],[1.897,.09],[1.933,.083],[1.962,.086],[2.023,.09],[1.851,.085],[1.881,.11],[1.921,.149],[1.889,.154],[1.775,.097],[1.812,.069],[1.766,.06],[1.794,.053],[1.716,.057],[1.845,.065],[1.905,.056],[2.003,.058],[1.865,.033],[1.684,.039],[1.689,.027],[1.622,.019],[1.569,.033],[1.563,.014],[1.579,.013],[1.587,.006],[1.457,.02],[1.304,.006],[1.324,.008],[2.056,.272],[2.099,.136],[2.188,.14],[2.128,.161],[2.148,.168],[2.136,.175],[2.188,.183],[2.22,.19],[2.243,.189],[2.196,.203],[2.084,.2],[2.116,.203],[2.146,.199],[2.064,.176],[2.036,.168],[2.06,.171],[2.156,.304],[2.18,.222],[2.16,.221],[2.235,.222],[2.2,.239],[2.235,.271],[2.084,.23],[2.156,.236],[2.148,.257],[2.18,.332],[2.22,.33],[2.243,.318],
[2.4,.284],[2.333,.269],[2.286,.255],[2.238,.243],[2.275,.221],[2.287,.208],[2.194,.203],[2.223,.193],[2.241,.189],[2.271,.291],[2.241,.316],[2.346,.321],[2.382,.329],[2.262,.332],[2.405,.343],[2.465,.354],[2.507,.33],[2.182,.332],[2.155,.304],
[2.644,.728],[2.565,.678],[2.515,.667],[2.555,.653],[2.694,.717],[2.734,.701],[2.674,.692],[2.615,.695],[2.744,.684],[2.684,.676],[2.644,.667],[2.714,.662],[2.615,.656],[2.664,.651],[2.734,.651],[2.605,.642],[2.644,.637],[2.714,.64],[2.684,.629],[2.535,.62],[2.51,.604],[2.605,.623],[2.654,.617],[2.709,.612],[2.585,.604],[2.625,.598],[2.674,.592],[2.535,.581],[2.575,.584],[2.605,.567],[2.654,.581],[2.435,.584],[2.49,.562],[2.535,.567],[2.555,.54],[2.515,.545],[2.445,.542],[2.485,.534],[2.435,.523],[2.515,.517],[2.475,.52],[2.56,.504],[2.416,.504],[2.356,.512],[2.406,.484],[2.445,.476],[2.495,.484],[2.644,.484],[2.515,.462],[2.401,.462],[2.56,.452],[2.465,.456],[2.336,.448],[2.391,.44],[2.445,.431],[2.505,.42],[2.406,.423],[2.445,.412],[2.366,.404],[2.336,.39],[2.426,.398],[2.495,.404],[2.316,.368],[2.266,.359],[2.376,.376],[2.435,.365],[2.465,.357],[2.485,.387],[2.401,.345],[2.49,.343],[2.535,.332],[2.316,.345],[2.226,.332],[2.177,.323],[2.256,.326],[2.381,.332]];

const arrowTails=[[1.782,.827],[3.435,.769],[4.033,.946],[3.676,.836],[3.048,.932]];
const arrowBends=[[1.455,.856],[3.069,.83],[3.568,.83],[3.524,.869],[3.115,.938]];
const arrowHeads=[[1.309,.928],[2.905,.926],[3.115,.927],[3.405,.927],[3.184,.932]];
const arrowColors=["#E64B35","#4DBBD5","#00A087","#3C5488","#F39B7F"];
const labelTexts=["F1: B6 Construction Quality Accident Frequency","F2: A4 Asset-Liability Ratio","F3: B3 Project Delay Rate","F4: B7 Subcontracting Compliance Rate","F5: A2 Restricted Funds Ratio"];
const labelAnchors=[[1.799,.8199],[3.4,.739],[3.798,.959],[3.399,.8107],[2.599,.8995]];

const NS="http://www.w3.org/2000/svg";
const xScale=v=>153+641*v;
const yScale=v=>1381.7-1201*v;
const radiusFor=v=>9+7.5*v;
function make(tag,parent,attrs){
  const el=document.createElementNS(NS,tag);
  for(const k in attrs)el.setAttribute(k,attrs[k]);
  parent.appendChild(el);
  return el;
}
const bandsG=document.getElementById('bands');
bandColors.forEach((col,i)=>{
  const r=make('rect',bandsG,{x:xScale(bandEdges[i]),y:120.6,width:xScale(bandEdges[i+1])-xScale(bandEdges[i]),height:1261.1,fill:col});
  
  
});
const gridG=document.getElementById('grid');
xTicks.forEach(t=>{
  const el=make('line',gridG,{x1:xScale(t),x2:xScale(t),y1:120.6,y2:1381.7,stroke:'#8a8a8a','stroke-opacity':.4,'stroke-width':2,'stroke-dasharray':'3 4'});
  
  
});
yTicks.forEach(t=>{
  const el=make('line',gridG,{x1:153,x2:2846,y1:yScale(t),y2:yScale(t),stroke:'#8a8a8a','stroke-opacity':.4,'stroke-width':3,'stroke-dasharray':'2 2.5'});
  
  
});
const pointsG=document.getElementById('points');
[b6Points,a4Points,b3Points,b7Points,a2Points].forEach((pts,i)=>{
  pts.forEach(p=>{
    const col=(i===0&&p[0]>=bandEdges[1])?b6HighRangeColor:seriesColors[i];
    const c=make('circle',pointsG,{cx:xScale(p[0]),cy:yScale(p[1]),r:radiusFor(p[1]),fill:col,'fill-opacity':.55,stroke:'#fff','stroke-opacity':.3,'stroke-width':1.5});
    
    
  });
});
const axesG=document.getElementById('axes');
const leftSpine=make('line',axesG,{x1:153,x2:153,y1:120.6,y2:1383,stroke:'#333','stroke-width':3});


const bottomSpine=make('line',axesG,{x1:151.5,x2:2846,y1:1381.7,y2:1381.7,stroke:'#333','stroke-width':3.5});


xTicks.forEach((t,i)=>{
  const tick=make('line',axesG,{x1:xScale(t),x2:xScale(t),y1:1382,y2:1392,stroke:'#333','stroke-width':2.5});
  
  
  const lab=make('text',axesG,{x:xScale(t),y:1425,'text-anchor':'middle','font-size':29,fill:'#333'});
  lab.textContent=xTickLabels[i];
  
  
});
yTicks.forEach((t,i)=>{
  const tick=make('line',axesG,{x1:143,x2:153,y1:yScale(t),y2:yScale(t),stroke:'#333','stroke-width':2.5});
  
  
  const lab=make('text',axesG,{x:132,y:yScale(t)+10,'text-anchor':'end','font-size':29,fill:'#333'});
  lab.textContent=yTickLabels[i];
  
  
});
const arrowsG=document.getElementById('arrows');
arrowTails.forEach((tail,i)=>{
  const p0=[xScale(tail[0]),yScale(tail[1])];
  const p1=[xScale(arrowBends[i][0]),yScale(arrowBends[i][1])];
  const p2=[xScale(arrowHeads[i][0]),yScale(arrowHeads[i][1])];
  const left=[],right=[];
  const steps=30,headLen=20,tailW=15,neckW=3;
  const total=Math.hypot(p2[0]-p0[0],p2[1]-p0[1]);
  const tEnd=1-headLen/total;
  let nx=0,ny=0,qx=0,qy=0;
  for(let s=0;s<=steps;s++){
    const t=tEnd*s/steps,u=1-t;
    qx=u*u*p0[0]+2*u*t*p1[0]+t*t*p2[0];
    qy=u*u*p0[1]+2*u*t*p1[1]+t*t*p2[1];
    const dx=2*u*(p1[0]-p0[0])+2*t*(p2[0]-p1[0]);
    const dy=2*u*(p1[1]-p0[1])+2*t*(p2[1]-p1[1]);
    const len=Math.hypot(dx,dy);
    nx=-dy/len;ny=dx/len;
    const w=(tailW+(neckW-tailW)*s/steps)/2;
    left.push((qx+nx*w)+','+(qy+ny*w));
    right.unshift((qx-nx*w)+','+(qy-ny*w));
  }
  const headPts=[(qx+nx*10)+','+(qy+ny*10),p2[0]+','+p2[1],(qx-nx*10)+','+(qy-ny*10)];
  const poly=make('polygon',arrowsG,{points:left.concat(headPts,right).join(' '),fill:arrowColors[i],'fill-opacity':.88});
  
  
});
const labelsG=document.getElementById('labels');
labelTexts.forEach((txt,i)=>{
  const t=make('text',labelsG,{x:xScale(labelAnchors[i][0]),y:yScale(labelAnchors[i][1]),'font-size':33.5,'font-weight':'bold',fill:arrowColors[i],stroke:'#fff','stroke-width':6,'stroke-linejoin':'round','paint-order':'stroke'});
  t.textContent=txt;
  
  
});
</script>
</body>
</html>
